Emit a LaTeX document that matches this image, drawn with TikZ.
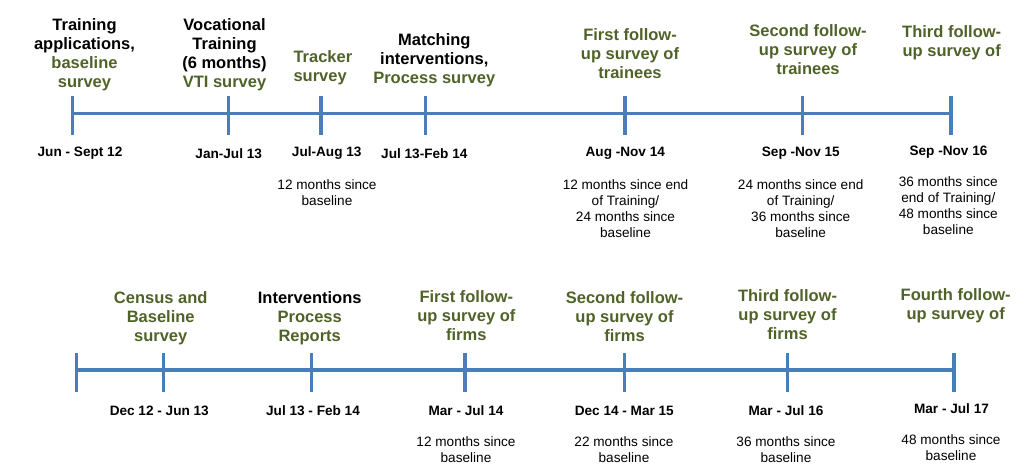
\documentclass[tikz,border=0pt]{standalone}
\usepackage{fontspec}
\setmainfont{Liberation Sans}
\definecolor{tlblue}{HTML}{4A7EBB}
\definecolor{tlgreen}{HTML}{4F6228}
\begin{document}
\begin{tikzpicture}[x=1pt,y=-1pt,
  title/.style={font=\fontsize{16.5}{19}\selectfont\bfseries, align=center, inner sep=0pt},
  gtitle/.style={title, text=tlgreen},
  datel/.style={font=\fontsize{13.6}{16}\selectfont\bfseries, inner sep=0pt},
  note/.style={font=\fontsize{13.6}{16}\selectfont, align=center, inner sep=0pt},
  axis/.style={draw=tlblue, line width=3.5pt},
  tick/.style={draw=tlblue, line width=3.5pt},
]
\useasboundingbox (0,0) rectangle (1036,473);

% ---------- top timeline ----------
\coordinate (a1) at (72.7,113.5);
\coordinate (a2) at (228.3,113.5);
\coordinate (a3) at (321,113.5);
\coordinate (a4) at (425.7,113.5);
\coordinate (a5) at (625,113.5);
\coordinate (a6) at (802.7,113.5);
\coordinate (a7) at (951,113.5);
\draw[axis] (a1) -- (a7);
\foreach \c in {a1,a2,a3,a4,a5,a6,a7}
  \draw[tick] (\c) ++(0,-17.5) -- ++(0,39);

\node[title] (ta1) at (84.5,54.5) {Training\\applications,\\\textcolor{tlgreen}{baseline}\\\textcolor{tlgreen}{survey}};
\node[title] (ta2) at (224.5,54.5) {Vocational\\Training\\(6 months)\\\textcolor{tlgreen}{VTI survey}};
\node[gtitle, align=left, anchor=west] (ta3) at (293.3,67.5) {Tracker\\survey};
\node[title] (ta4) at (434.3,60) {Matching\\interventions,\\\textcolor{tlgreen}{Process survey}};
\node[gtitle] (ta5) at (630,54) {First follow-\\up survey of\\trainees};
\node[gtitle] (ta6) at (808,50) {Second follow-\\up survey of\\trainees};
\node[gtitle] (ta7) at (951.7,42.5) {Third follow-\\up survey of};

\node[datel] (da1) at (80,153.5) {Jun - Sept 12};
\node[datel] (da2) at (228.7,153.5) {Jan-Jul 13};
\node[datel] (da3) at (326.7,153.5) {Jul-Aug 13};
\node[datel] (da4) at (424.3,153.5) {Jul 13-Feb 14};
\node[datel] (da5) at (625.3,153.5) {Aug -Nov 14};
\node[datel] (da6) at (800.8,153.5) {Sep -Nov 15};
\node[datel] (da7) at (948.5,152) {Sep -Nov 16};

\node[note] (na3) at (327,192.5) {12 months since\\baseline};
\node[note] (na5) at (625.5,208.5) {12 months since end\\of Training/\\24 months since\\baseline};
\node[note] (na6) at (800.7,208.5) {24 months since end\\of Training/\\36 months since\\baseline};
\node[note] (na7) at (948.3,206) {36 months since\\end of Training/\\48 months since\\baseline};

% ---------- bottom timeline ----------
\coordinate (b1) at (76.7,370);
\coordinate (b2) at (163.3,370);
\coordinate (b3) at (311.3,370);
\coordinate (b4) at (465,370);
\coordinate (b5) at (624.3,370);
\coordinate (b6) at (787.7,370);
\coordinate (b7) at (954,370);
\draw[axis] (b1) -- (b7);
\foreach \c in {b1,b2,b3,b4,b5,b6,b7}
  \draw[tick] (\c) ++(0,-17) -- ++(0,39);

\node[gtitle] (tb2) at (160.7,318) {Census and\\Baseline\\survey};
\node[gtitle] (tb3) at (309.7,318) {\textcolor{black}{Interventions}\\Process\\Reports};
\node[gtitle] (tb4) at (466.3,316) {First follow-\\up survey of\\firms};
\node[gtitle] (tb5) at (624.5,317) {Second follow-\\up survey of\\firms};
\node[gtitle] (tb6) at (787.5,315) {Third follow-\\up survey of\\firms};
\node[gtitle] (tb7) at (955.7,305.5) {Fourth follow-\\up survey of};

\node[datel] (db2) at (159.3,410.5) {Dec 12 - Jun 13};
\node[datel] (db3) at (313,410.5) {Jul 13 - Feb 14};
\node[datel] (db4) at (466,410.5) {Mar - Jul 14};
\node[datel] (db5) at (624.3,410.5) {Dec 14 - Mar 15};
\node[datel] (db6) at (786,410.5) {Mar - Jul 16};
\node[datel] (db7) at (951.5,408.5) {Mar - Jul 17};

\node[note] (nb4) at (466,450) {12 months since\\baseline};
\node[note] (nb5) at (624,450) {22 months since\\baseline};
\node[note] (nb6) at (786,450) {36 months since\\baseline};
\node[note] (nb7) at (951,448) {48 months since\\baseline};
\end{tikzpicture}
\end{document}
